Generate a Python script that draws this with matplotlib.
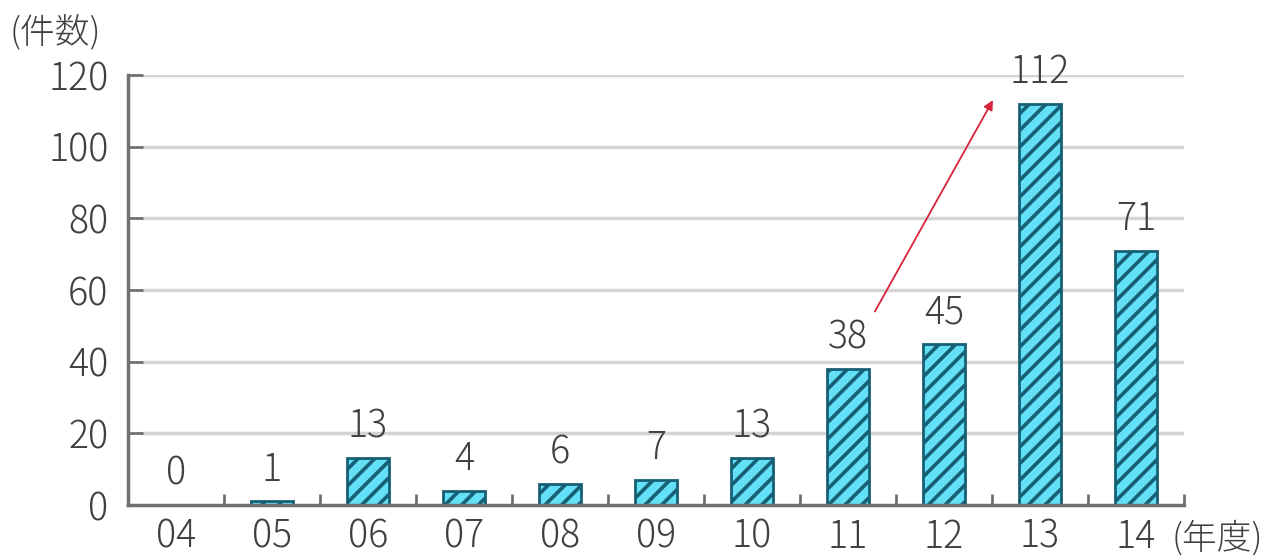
import matplotlib
matplotlib.use("Agg")
import matplotlib.pyplot as plt
import numpy as np

plt.rcParams['font.family'] = ['Noto Sans CJK JP', 'DejaVu Sans']
plt.rcParams['font.weight'] = 'light'
plt.rcParams['hatch.linewidth'] = 2.6
plt.rcParams['hatch.color'] = '#1f7e9a'

years = ['04', '05', '06', '07', '08', '09', '10', '11', '12', '13', '14']
counts = [0, 1, 13, 4, 6, 7, 13, 38, 45, 112, 71]
y_ticks = [0, 20, 40, 60, 80, 100, 120]

# trend arrow from the 2011 label towards the 2013 peak (data coordinates)
arrow_start = (7.28, 54)
arrow_end = (8.51, 113)

W, H = 1269, 555
fig = plt.figure(figsize=(W / 100, H / 100), dpi=100)
ax = fig.add_axes([128 / W, 1 - 505 / H, (1184 - 128) / W, (505 - 75) / H])

x = np.arange(len(years))
ax.bar(x, counts, width=0.44, color='#63e0f6', edgecolor='#175f75',
       linewidth=2, hatch='//', zorder=3)

text_col = '#404040'
fs = 27
for xi, v in zip(x, counts):
    ax.text(xi, v + 3.2, str(v), ha='center', va='bottom', fontsize=fs,
            color=text_col, zorder=4)

ax.set_xlim(-0.5, len(years) - 0.5)
ax.set_ylim(0, 120)

ax.set_yticks(y_ticks)
ax.set_yticklabels([str(t) for t in y_ticks], fontsize=fs, color=text_col)
ax.tick_params(axis='y', direction='in', length=11, width=2, color='#707070', pad=14)
for t in y_ticks[1:]:
    ax.axhline(t, color='#d4d4d4', lw=2.5, zorder=1,
               xmin=15 / (1184 - 128), xmax=1)

ax.set_xticks(x)
ax.set_xticklabels(years, fontsize=fs, color=text_col)
ax.tick_params(axis='x', length=0, pad=9)
ax.set_xticks(np.arange(0.5, len(years)), minor=True)
ax.tick_params(axis='x', which='minor', direction='in', length=8, width=2, color='#707070')

for s in ['top', 'right']:
    ax.spines[s].set_visible(False)
for s in ['left', 'bottom']:
    ax.spines[s].set_color('#707070')
    ax.spines[s].set_linewidth(2.5)
ax.spines['bottom'].set_zorder(5)

ax.annotate('', xy=arrow_end, xytext=arrow_start,
            arrowprops=dict(arrowstyle='-|>', color='#d8233a', lw=1.3,
                            mutation_scale=14, shrinkA=0, shrinkB=0), zorder=6)

fig.text(10 / W, 1 - 32 / H, '(件数)', fontsize=25, color=text_col, va='center', ha='left')
fig.text(1172 / W, 1 - 538 / H, '(年度)', fontsize=25, color=text_col, va='center', ha='left')

fig.savefig('out.png', dpi=100, facecolor='white')
